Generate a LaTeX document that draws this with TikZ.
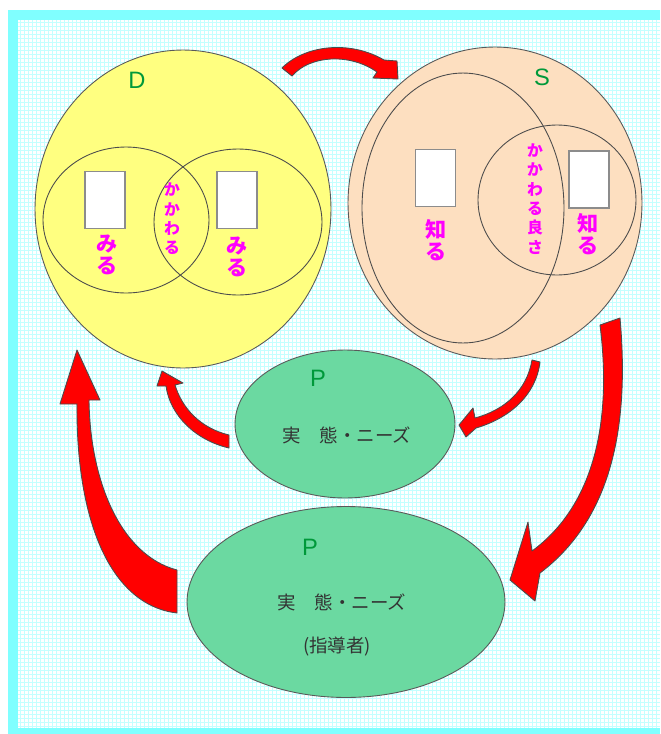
\documentclass[tikz,border=0pt]{standalone}
\usepackage{fontspec}
\usepackage{tikz}
\usetikzlibrary{shapes.geometric}
\setmainfont{Liberation Sans}
\newfontfamily\jp{Noto Sans CJK JP}
\definecolor{dyellow}{HTML}{FFFF80}
\definecolor{speach}{HTML}{FDDFC0}
\definecolor{pgreen}{HTML}{6BD9A1}
\definecolor{lgreen}{HTML}{00993A}
\definecolor{pink}{HTML}{FF00FF}
\definecolor{framec}{HTML}{80FFFF}
\definecolor{gridc}{HTML}{C4FFFF}

\begin{document}
\begin{tikzpicture}[x=0.02cm, y=-0.02cm,
	oval/.style={ellipse, draw=black!65, line width=0.5pt, inner sep=0pt},
	ring/.style={ellipse, draw=black!70, line width=0.5pt, inner sep=0pt},
	card/.style={draw=black!45, fill=white, line width=0.9pt, inner sep=0pt, minimum width=0.8cm, minimum height=1.14cm},
	tag/.style={text=lgreen, inner sep=0pt, font=\fontsize{13.5}{13.5}\selectfont},
	kana/.style={text=pink, align=center, inner sep=0pt, font=\jp\bfseries\fontsize{12}{12.6}\selectfont},
	smallkana/.style={kana, font=\jp\bfseries\fontsize{9}{11}\selectfont},
	need/.style={text=black!80, inner sep=0pt, font=\jp\fontsize{10.5}{12}\selectfont},
	redarrow/.style={fill=red, draw=black!70, line width=0.5pt, line join=round}]
	\useasboundingbox (0,0) rectangle (660,734);
	% frame and grid paper
	\fill[white] (0,0) rectangle (660,734);
	\fill[framec] (8,10) rectangle (660,734);
	\fill[white] (18,20) rectangle (660,728);
	\foreach \gx in {20,24,...,656} \draw[gridc, line width=0.45pt] (\gx,20) -- (\gx,728);
	\foreach \gy in {22,26,...,726} \draw[gridc, line width=0.45pt] (18,\gy) -- (660,\gy);

	% D
	\node[oval, fill=dyellow, minimum width=5.92cm, minimum height=6.36cm] (dcircle) at (183,209) {};
	\node[ring, minimum width=3.32cm, minimum height=2.92cm] (dleft) at (126,220) {};
	\node[ring, minimum width=3.36cm, minimum height=2.92cm] (dright) at (238,222) {};
	\node[card] (dcardl) at (105,200) {};
	\node[card] (dcardr) at (237,200) {};
	\node[tag] (dtag) at (137,80) {D};
	\node[kana] (dseel) at (107,255) {み\\る};
	\node[kana] (dseer) at (237,257) {み\\る};
	\node[smallkana] (dlink) at (172,219) {か\\か\\わ\\る};

	% S
	\node[oval, fill=speach, minimum width=5.88cm, minimum height=6.24cm] (scircle) at (495,203) {};
	\node[ring, minimum width=4.04cm, minimum height=5.40cm] (sleft) at (463,208) {};
	\node[ring, minimum width=3.16cm, minimum height=3.00cm] (sright) at (557,200) {};
	\node[card] (scardl) at (435.5,178) {};
	\node[card] (scardr) at (589,179.5) {};
	\node[tag] (stag) at (542,77) {S};
	\node[kana] (sknowl) at (436,240) {知\\る};
	\node[kana] (sknowr) at (588,234) {知\\る};
	\node[smallkana] (sgood) at (535,199) {か\\か\\わ\\る\\良\\さ};

	% P
	\node[oval, fill=pgreen, minimum width=4.40cm, minimum height=2.96cm] (psmall) at (345,424) {};
	\node[tag] (psmalltag) at (318,378) {P};
	\node[need] (psmallneed) at (347,435) {実　態・ニーズ};
	\node[oval, fill=pgreen, minimum width=6.36cm, minimum height=3.82cm] (pbig) at (346,602) {};
	\node[tag] (pbigtag) at (310,547) {P};
	\node[need] (pbigneed) at (342,602) {実　態・ニーズ};
	\node[need] (pbigwho) at (337,647) {(指導者)};

	% block arrows
	\filldraw[redarrow] (282,68) .. controls (305,45) and (350,40) .. (384,60) -- (397,61) -- (398,79) -- (373,78) -- (377,72) .. controls (350,53) and (310,55) .. (292,76) -- cycle;
	\filldraw[redarrow] (532,360) -- (540,362) .. controls (536,395) and (510,418) .. (476,428) -- (466,437) -- (459,425) -- (473,408) -- (475,418) .. controls (505,410) and (527,390) .. (532,360) -- cycle;
	\filldraw[redarrow] (600,325) -- (620,318) .. controls (630,430) and (610,520) .. (540,573) -- (535,601) -- (510,580) -- (528,522) -- (532,551) .. controls (595,505) and (612,420) .. (600,325) -- cycle;
	\filldraw[redarrow] (229,448) .. controls (195,440) and (170,415) .. (166,386) -- (157,386) -- (162,371) -- (183,383) -- (175,385) .. controls (182,408) and (200,428) .. (229,435) -- cycle;
	\filldraw[redarrow] (177,613) .. controls (110,605) and (76,520) .. (77,404) -- (60,404) -- (77,350) -- (100,400) -- (89,400) .. controls (90,480) and (120,555) .. (177,570) -- cycle;
\end{tikzpicture}
\end{document}
